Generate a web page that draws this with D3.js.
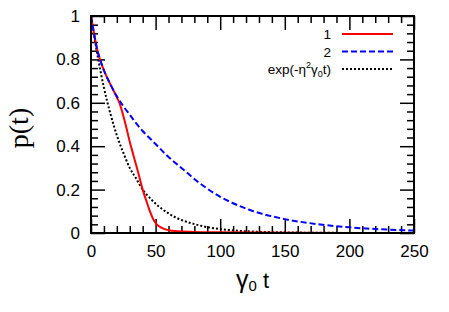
<!DOCTYPE html>
<html>
<head>
<meta charset="utf-8">
<script src="https://cdn.jsdelivr.net/npm/d3@7"></script>
<style>
  body { margin: 0; background: #fff; }
  text { font-family: "Liberation Sans", Arial, sans-serif; }
</style>
</head>
<body>
<script>
// values
var tRed   = [0, 5, 10, 15, 18, 20, 22, 25, 28, 30, 33, 36, 40, 43, 45, 48, 50, 53, 56, 60, 65, 80, 100, 150, 250];
var pRed   = [1, 0.84, 0.75, 0.685, 0.65, 0.625, 0.60, 0.54, 0.47, 0.42, 0.355, 0.29, 0.20, 0.145, 0.11, 0.066, 0.046, 0.03, 0.02, 0.013, 0.009, 0.005, 0.003, 0.001, 0];

var tBlue  = [0, 2, 5, 7, 10, 15, 20, 25, 30, 35, 40, 50, 60, 70, 84, 100, 110, 123, 150, 175, 200, 225, 250];
var pBlue  = [1, 0.93, 0.84, 0.80, 0.75, 0.685, 0.63, 0.585, 0.545, 0.505, 0.47, 0.41, 0.35, 0.30, 0.23, 0.167, 0.137, 0.106, 0.064, 0.041, 0.026, 0.017, 0.011];

var tExp   = [0, 5, 10, 15, 20, 25, 30, 35, 40, 45, 50, 60, 70, 80, 90, 100, 110, 120, 140, 160, 180, 200, 250];
var pExp   = [1, 0.82, 0.67, 0.55, 0.45, 0.37, 0.30, 0.25, 0.20, 0.165, 0.135, 0.09, 0.06, 0.041, 0.027, 0.018, 0.012, 0.008, 0.004, 0.002, 0.001, 0.0003, 0];

var xTicks = [0, 50, 100, 150, 200, 250];
var yTicks = [0, 0.2, 0.4, 0.6, 0.8, 1];
var yTickLabels = ["0", "0.2", "0.4", "0.6", "0.8", "1"];
var legendLabels = ["1", "2", "exp"];

var margin = {top: 16, right: 35, bottom: 79, left: 91},
    width = 449 - margin.left - margin.right,
    height = 312 - margin.top - margin.bottom;

var svg = d3.select("body").append("svg")
    .attr("width", 449)
    .attr("height", 312)
  .append("g")
    .attr("transform", "translate(" + margin.left + "," + margin.top + ")");

var x = d3.scaleLinear().domain([0, 250]).range([0, width]);
var y = d3.scaleLinear().domain([0, 1]).range([height, 0]);

var minorX = d3.range(0, 251, 10).filter(function(d) { return d % 50 !== 0; });
var minorY = d3.range(0, 26).map(function(i) { return i * 0.04; }).filter(function(d, i) { return i % 5 !== 0; });

// major + minor ticks pointing inwards on all four sides
function tickGroup(axis, tr) {
  var g = svg.append("g").attr("transform", tr).call(axis);
  g.select(".domain").remove();
  g.selectAll("line").attr("stroke", "#000").attr("stroke-width", 1.5);
  return g;
}
tickGroup(d3.axisBottom(x).tickValues(xTicks).tickSize(-14).tickFormat(""), "translate(0," + height + ")");
tickGroup(d3.axisBottom(x).tickValues(minorX).tickSize(-7).tickFormat(""), "translate(0," + height + ")");
tickGroup(d3.axisTop(x).tickValues(xTicks).tickSize(-14).tickFormat(""), "translate(0,0)");
tickGroup(d3.axisTop(x).tickValues(minorX).tickSize(-7).tickFormat(""), "translate(0,0)");
tickGroup(d3.axisLeft(y).tickValues(yTicks).tickSize(-14).tickFormat(""), "translate(0,0)");
tickGroup(d3.axisLeft(y).tickValues(minorY).tickSize(-7).tickFormat(""), "translate(0,0)");
tickGroup(d3.axisRight(y).tickValues(yTicks).tickSize(-14).tickFormat(""), "translate(" + width + ",0)");
tickGroup(d3.axisRight(y).tickValues(minorY).tickSize(-7).tickFormat(""), "translate(" + width + ",0)");

// tick labels
var xl = tickGroup(d3.axisBottom(x).tickValues(xTicks).tickSize(0).tickPadding(12).tickFormat(d3.format("d")), "translate(0," + height + ")");
xl.selectAll("text").attr("font-size", 17).attr("fill", "#000")
  .style("font-family", "'Liberation Sans', Arial, sans-serif");
var yl = tickGroup(d3.axisLeft(y).tickValues(yTicks).tickSize(0).tickPadding(11)
    .tickFormat(function(d, i) { return yTickLabels[i]; }), "translate(0,0)");
yl.selectAll("text").attr("font-size", 17).attr("fill", "#000")
  .style("font-family", "'Liberation Sans', Arial, sans-serif");

// curves
svg.append("clipPath").attr("id", "clip")
  .append("rect").attr("width", width).attr("height", height);

function series(ts, ps) {
  return ts.map(function(t, i) { return [t, ps[i]]; });
}
var line = d3.line()
    .x(function(d) { return x(d[0]); })
    .y(function(d) { return y(d[1]); })
    .curve(d3.curveMonotoneX);

var curves = svg.append("g").attr("clip-path", "url(#clip)");
curves.append("path").datum(series(tExp, pExp)).attr("d", line)
  .attr("fill", "none").attr("stroke", "#000").attr("stroke-width", 2).attr("stroke-dasharray", "2,2");
curves.append("path").datum(series(tRed, pRed)).attr("d", line)
  .attr("fill", "none").attr("stroke", "#ff0000").attr("stroke-width", 2);
curves.append("path").datum(series(tBlue, pBlue)).attr("d", line)
  .attr("fill", "none").attr("stroke", "#0000ff").attr("stroke-width", 2).attr("stroke-dasharray", "6,3");

// frame
svg.append("rect").attr("width", width).attr("height", height)
  .attr("fill", "none").attr("stroke", "#000").attr("stroke-width", 2);

// legend
var leg = svg.append("g");
var legStyles = [
  {stroke: "#ff0000", dash: null, w: 2},
  {stroke: "#0000ff", dash: "6,3", w: 2},
  {stroke: "#000", dash: "2,2", w: 2}
];
legendLabels.forEach(function(lab, i) {
  var yy = 18 + i * 17.5;
  leg.append("line").attr("x1", 251).attr("x2", 302).attr("y1", yy).attr("y2", yy)
    .attr("stroke", legStyles[i].stroke).attr("stroke-width", legStyles[i].w)
    .attr("stroke-dasharray", legStyles[i].dash);
  var tx = leg.append("text").attr("x", 240).attr("y", yy + 5)
    .attr("text-anchor", "end").attr("font-size", 13.5);
  if (lab === "exp") {
    tx.append("tspan").text("exp(-η");
    tx.append("tspan").attr("font-size", 9).attr("dy", -6).text("2");
    tx.append("tspan").attr("dy", 6).text("γ");
    tx.append("tspan").attr("font-size", 9).attr("dy", 3).text("0");
    tx.append("tspan").attr("dy", -3).text("t)");
  } else {
    tx.text(lab);
  }
});

// axis labels
var xt = svg.append("text").attr("x", width / 2).attr("y", height + 55)
  .attr("text-anchor", "middle").attr("font-size", 22);
xt.append("tspan").attr("font-size", 25).text("γ");
xt.append("tspan").attr("font-size", 15).attr("dy", 3).text("0");
xt.append("tspan").attr("dy", -3).text(" t");

svg.append("text")
  .attr("transform", "translate(" + (28 - margin.left) + "," + (128 - margin.top) + ") rotate(-90)")
  .attr("text-anchor", "middle")
  .attr("font-size", 28)
  .style("font-family", "'Liberation Serif', 'Times New Roman', serif")
  .text("p(t)");
</script>
</body>
</html>
